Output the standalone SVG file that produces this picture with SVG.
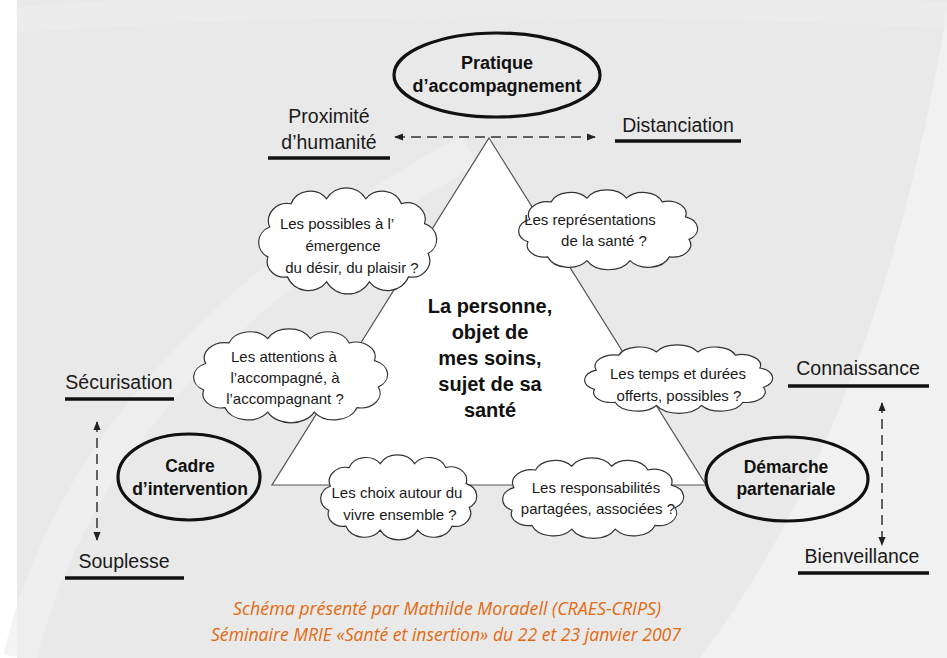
<svg xmlns="http://www.w3.org/2000/svg" xmlns:xlink="http://www.w3.org/1999/xlink" width="947" height="658" viewBox="0 0 947 658">
  <style>
    .lbl { font-family: "Liberation Sans", Arial, sans-serif; font-size: 19.5px; fill: #1a1a1a; text-anchor: middle; }
    .bold { font-family: "Liberation Sans", Arial, sans-serif; font-weight: bold; fill: #111; text-anchor: middle; }
    .cl { font-family: "Liberation Sans", Arial, sans-serif; font-size: 15px; fill: #1a1a1a; text-anchor: middle; }
    .ul { stroke: #111; stroke-width: 3.5; }
    .ell { fill: none; stroke: #111; stroke-width: 3.2; }
    .dash { stroke: #333; stroke-width: 1.5; stroke-dasharray: 10 6; fill: none; }
    .foot { font-family: "Open Sans", "DejaVu Sans", sans-serif; font-style: italic; font-size: 19px; fill: #e2690f; text-anchor: middle; }
    .cloud { fill: #fff; stroke: #333; stroke-width: 1.2; }
  </style>
  <defs>
    <path id="cloudShape" class="cloud" vector-effect="non-scaling-stroke" d="M 6 23.5 A 10.5 10.5 0 0 1 18 9.5 A 11.5 11.5 0 0 1 38 6.5 A 12.5 12.5 0 0 1 60 6.5 A 11.5 11.5 0 0 1 80 9.5 A 10 10 0 0 1 93 21.5 A 10 10 0 0 1 95 39.5 A 10 10 0 0 1 84 53.5 A 12.5 12.5 0 0 1 62 56.5 A 13.5 13.5 0 0 1 38 56.5 A 12.5 12.5 0 0 1 16 53.5 A 9.5 9.5 0 0 1 5 41.5 A 10 10 0 0 1 6 23.5 Z"/>
    <marker id="ah" viewBox="0 0 10 10" refX="9" refY="5" markerWidth="9" markerHeight="9" markerUnits="userSpaceOnUse" orient="auto-start-reverse">
      <path d="M0,1 L10,5 L0,9 Z" fill="#222"/>
    </marker>
  </defs>

  <!-- background -->
  <rect x="0" y="0" width="947" height="658" fill="#ffffff"/>
  <rect x="17" y="0" width="930" height="658" fill="#e9e9e9"/>
  <path d="M 947 0 L 947 658 L 700 658 Q 880 420 947 10 Z" fill="#f1f1f1"/>
  <path d="M 20 658 Q 90 360 470 150" stroke="#f0f0f0" stroke-width="34" fill="none" opacity="0.7"/>
  <path d="M 17 20 Q 400 -10 947 15" stroke="#efefef" stroke-width="26" fill="none" opacity="0.6"/>

  <!-- connectors -->
  <g id="connectors">
    <line class="dash" x1="395" y1="137" x2="595" y2="137" marker-start="url(#ah)" marker-end="url(#ah)"/>
    <line class="dash" x1="97" y1="422" x2="97" y2="540" marker-start="url(#ah)" marker-end="url(#ah)"/>
    <line class="dash" x1="882" y1="403" x2="882" y2="545" marker-start="url(#ah)" marker-end="url(#ah)"/>
  </g>

  <!-- central triangle -->
  <g id="triangle">
    <path d="M 489 138 L 706 485 L 272 485 Z" fill="#ffffff" stroke="#555" stroke-width="1.2"/>
    <text class="bold" font-size="20" x="490" y="313">La personne,</text>
    <text class="bold" font-size="20" x="490" y="339">objet de</text>
    <text class="bold" font-size="20" x="490" y="365">mes soins,</text>
    <text class="bold" font-size="20" x="490" y="391">sujet de sa</text>
    <text class="bold" font-size="20" x="490" y="417">santé</text>
  </g>

  <!-- ellipse nodes -->
  <g id="pratique">
    <ellipse class="ell" cx="497" cy="75" rx="103" ry="42"/>
    <text class="bold" font-size="18" x="497" y="69">Pratique</text>
    <text class="bold" font-size="18" x="497" y="92">d’accompagnement</text>
  </g>
  <g id="cadre">
    <ellipse class="ell" cx="189" cy="477" rx="71" ry="43"/>
    <text class="bold" font-size="17.5" x="190" y="472">Cadre</text>
    <text class="bold" font-size="17.5" x="190" y="495">d’intervention</text>
  </g>
  <g id="demarche">
    <ellipse class="ell" cx="787" cy="479" rx="81" ry="42"/>
    <text class="bold" font-size="17.5" x="786" y="473">Démarche</text>
    <text class="bold" font-size="17.5" x="786" y="495">partenariale</text>
  </g>

  <!-- pole labels -->
  <g id="proximite">
    <text class="lbl" x="329" y="123">Proximité</text>
    <text class="lbl" x="329" y="149">d’humanité</text>
    <line class="ul" x1="268" y1="158" x2="390" y2="158"/>
  </g>
  <g id="distanciation">
    <text class="lbl" x="678" y="132">Distanciation</text>
    <line class="ul" x1="615" y1="141" x2="741" y2="141"/>
  </g>
  <g id="securisation">
    <text class="lbl" x="119" y="389">Sécurisation</text>
    <line class="ul" x1="65" y1="399" x2="174" y2="399"/>
  </g>
  <g id="souplesse">
    <text class="lbl" x="124" y="568">Souplesse</text>
    <line class="ul" x1="65" y1="578" x2="184" y2="578"/>
  </g>
  <g id="connaissance">
    <text class="lbl" x="858" y="375">Connaissance</text>
    <line class="ul" x1="788" y1="386" x2="929" y2="386"/>
  </g>
  <g id="bienveillance">
    <text class="lbl" x="862" y="563">Bienveillance</text>
    <line class="ul" x1="798" y1="573" x2="929" y2="573"/>
  </g>

  <!-- clouds -->
  <g id="cloud-possibles">
    <use xlink:href="#cloudShape" transform="translate(259,188) scale(1.78,1.66)"/>
    <text class="cl" x="337" y="229">Les possibles à l’</text>
    <text class="cl" x="343" y="251">émergence</text>
    <text class="cl" x="352" y="273">du désir, du plaisir ?</text>
  </g>
  <g id="cloud-representations">
    <use xlink:href="#cloudShape" transform="translate(519,190) scale(1.79,1.25)"/>
    <text class="cl" x="590" y="225">Les représentations</text>
    <text class="cl" x="604" y="246">de la santé ?</text>
  </g>
  <g id="cloud-attentions">
    <use xlink:href="#cloudShape" transform="translate(194,329) scale(1.94,1.47)"/>
    <text class="cl" x="284" y="362">Les attentions à</text>
    <text class="cl" x="285" y="383">l’accompagné, à</text>
    <text class="cl" x="285" y="404">l’accompagnant ?</text>
  </g>
  <g id="cloud-temps">
    <use xlink:href="#cloudShape" transform="translate(585,345) scale(1.88,1.07)"/>
    <text class="cl" x="678" y="379">Les temps et durées</text>
    <text class="cl" x="679" y="401">offerts, possibles ?</text>
  </g>
  <g id="cloud-choix">
    <use xlink:href="#cloudShape" transform="translate(321,455) scale(1.56,1.33)"/>
    <text class="cl" x="397" y="498">Les choix autour du</text>
    <text class="cl" x="400" y="520">vivre ensemble ?</text>
  </g>
  <g id="cloud-responsabilites">
    <use xlink:href="#cloudShape" transform="translate(503,458) scale(1.81,1.26)"/>
    <text class="cl" x="596" y="493">Les responsabilités</text>
    <text class="cl" x="598" y="514">partagées, associées ?</text>
  </g>

  <!-- footer -->
  <g id="footer">
    <text class="foot" x="447" y="615" textLength="428" lengthAdjust="spacingAndGlyphs">Schéma présenté par Mathilde Moradell  (CRAES-CRIPS)</text>
    <text class="foot" x="446" y="641" textLength="470" lengthAdjust="spacingAndGlyphs">Séminaire MRIE «Santé et insertion» du 22 et 23 janvier 2007</text>
  </g>
</svg>
